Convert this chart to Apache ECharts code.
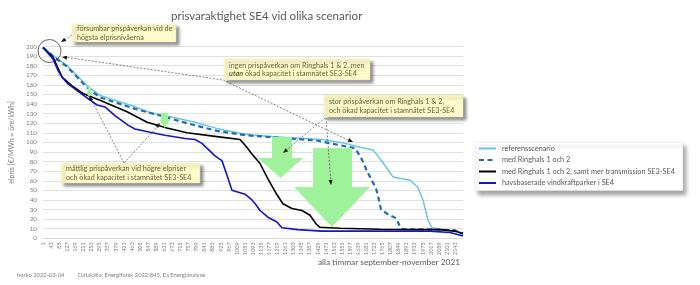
<!DOCTYPE html>
<html>
<head>
<meta charset="utf-8">
<script src="https://cdn.jsdelivr.net/npm/echarts@6/dist/echarts.min.js"></script>
<style>
  html, body { margin: 0; padding: 0; background: #fff; }
  #chart { width: 700px; height: 285px; }
</style>
</head>
<body>
<div id="chart"></div>
<script>
// hours are 0-based index into the sorted (duration) series, prices in €/MWh
const seriesNames = [
    'referensscenario',
    'med Ringhals 1 och 2',
    'med Ringhals 1 och 2, samt mer transmission SE3-SE4',
    'havsbaserade vindkraftparker i SE4'
];

const referens = [
    [0, 199], [50, 191], [125, 180], [230, 159], [296, 149], [468, 138], [556, 131], [634, 128],
    [790, 121], [904, 114.6], [1024, 109.5], [1076, 108], [1200, 106], [1450, 103], [1570, 99],
    [1648, 95], [1715, 92], [1736, 87], [1788, 73], [1819, 64], [1908, 60.5], [1949, 53],
    [1975, 40], [2001, 19], [2022, 11], [2063, 9.7], [2152, 6.6], [2183, 3.5]
];

const ringhals = [
    [0, 199], [50, 190], [125, 179], [230, 157], [296, 147], [478, 135], [608, 128], [748, 120],
    [904, 112], [1050, 107.5], [1150, 106], [1420, 102], [1570, 96], [1622, 94], [1632, 92],
    [1658, 82], [1684, 70], [1710, 60], [1731, 52], [1746, 40], [1757, 30], [1793, 25],
    [1835, 21], [1856, 12], [1871, 9.5], [2000, 9.3], [2140, 8.5], [2183, 5]
];

const ringhalsTrans = [
    [0, 199], [52, 189], [99, 168], [151, 159], [208, 151], [296, 144], [437, 132], [541, 121],
    [644, 115], [748, 110], [904, 106], [1024, 103], [1055, 96], [1086, 88], [1128, 78],
    [1169, 62], [1211, 47], [1247, 36], [1294, 31], [1346, 29], [1388, 24], [1419, 15],
    [1440, 11.5], [1544, 10.5], [1750, 9.5], [2063, 9], [2141, 7.5], [2183, 5]
];

const havsvind = [
    [0, 199], [52, 187], [78, 175], [99, 168], [130, 161], [218, 148], [281, 139], [322, 137],
    [374, 128], [442, 118], [478, 114], [556, 110.6], [634, 107.5], [738, 104], [790, 103],
    [826, 99], [852, 94], [894, 86], [930, 81], [956, 66], [982, 50], [1050, 46], [1086, 40],
    [1107, 35], [1128, 29], [1169, 22], [1216, 17], [1242, 11], [1325, 9], [1450, 7.5],
    [2011, 7.5], [2115, 6], [2183, 2.5]
];

const notes = [
    'försumbar prispåverkan vid de\nhögsta elprisnivåerna',
    'ingen prispåverkan om Ringhals 1 & 2, men\n{b|utan} ökad kapacitet i stamnätet SE3-SE4',
    'stor prispåverkan om Ringhals 1 & 2,\noch ökad kapacitet i stamnätet SE3-SE4',
    'måttlig prispåverkan vid högre elpriser\noch ökad kapacitet i stamnätet SE3-SE4'
];

const FONT = 'Lato';
const noteColor = '#6b6133';
const green = '#9ef29a';

function noteBox(x, y, w, h, text) {
    return [
        {
            type: 'rect', shape: { x: x, y: y, width: w, height: h },
            style: { fill: '#fdfbc9', stroke: '#e6e3b0', lineWidth: 0.5,
                shadowBlur: 3, shadowOffsetX: 3, shadowOffsetY: 3, shadowColor: 'rgba(0,0,0,0.45)' },
            z: 10
        },
        {
            type: 'text', x: x + 5, y: y + h / 2,
            style: { text: text, fill: noteColor, font: '7.2px ' + FONT, lineHeight: 8.5,
                verticalAlign: 'middle',
                rich: { b: { fontWeight: 'bold', fontStyle: 'italic', fill: noteColor, fontSize: 7.2, fontFamily: FONT } } },
            z: 11
        }
    ];
}

function dashLine(points) {
    return {
        type: 'polyline', shape: { points: points },
        style: { stroke: '#333', lineWidth: 0.6, lineDash: [2, 1.5], fill: null }, z: 9
    };
}

function arrowHead(tip, from) {
    const dx = tip[0] - from[0], dy = tip[1] - from[1];
    const len = Math.sqrt(dx * dx + dy * dy);
    const ux = dx / len, uy = dy / len;
    const L = 5, W = 2;
    const bx = tip[0] - ux * L, by = tip[1] - uy * L;
    return {
        type: 'polygon',
        shape: { points: [tip, [bx - uy * W, by + ux * W], [bx + uy * W, by - ux * W]] },
        style: { fill: '#111' }, z: 9
    };
}

function blockArrow(sx0, sx1, sy0, sy1, hx0, hx1, hy1) {
    return {
        type: 'polygon',
        shape: { points: [[sx0, sy0], [sx1, sy0], [sx1, sy1], [hx1, sy1], [(hx0 + hx1) / 2, hy1], [hx0, sy1], [sx0, sy1]] },
        style: { fill: green }, z: 5
    };
}

const chart = echarts.init(document.getElementById('chart'));

const graphics = [
    // green block arrows
    blockArrow(87.5, 91, 87, 92, 85.5, 93, 97),
    blockArrow(161, 168, 113, 120, 159.5, 170, 128),
    blockArrow(272, 292, 137, 158, 258, 303, 178),
    blockArrow(313, 352, 148, 187, 294, 370, 227),
    // circle at the top
    { type: 'circle', shape: { cx: 49.5, cy: 51, r: 11.5 }, style: { stroke: '#222', lineWidth: 0.7, fill: null }, z: 9 },
    // dashed pointer lines
    dashLine([[72, 35], [63, 41]]), arrowHead([61, 42], [72, 35]),
    dashLine([[64, 57], [223, 80], [350, 141]]),
    arrowHead([62, 57], [223, 80]), arrowHead([353, 142], [223, 80]),
    dashLine([[325, 118], [285, 151]]), arrowHead([283, 153], [325, 118]),
    dashLine([[326, 118], [331, 183]]), arrowHead([331, 185], [326, 118]),
    dashLine([[124, 163], [91, 99]]), arrowHead([89, 96], [124, 163]),
    dashLine([[124, 163], [158, 126]]), arrowHead([160, 123], [124, 163]),
    // texts
    { type: 'text', x: 460, y: 262, style: { text: 'alla timmar september-november 2021', fill: '#595959',
        font: '8.3px ' + FONT, align: 'right', verticalAlign: 'middle' } },
    { type: 'text', x: 17, y: 275, style: { text: 'horko 2022-03-04', fill: '#7f7f7f',
        font: '5.8px ' + FONT, verticalAlign: 'middle' } },
    { type: 'text', x: 78, y: 275, style: { text: 'Datakälla: Energiforsk 2022:845, Ea Energianalyse', fill: '#7f7f7f',
        font: '5.8px ' + FONT, verticalAlign: 'middle' } }
]
    .concat(noteBox(72, 24, 104, 18, notes[0]))
    .concat(noteBox(224, 59, 146, 21, notes[1]))
    .concat(noteBox(324, 95, 139, 22, notes[2]))
    .concat(noteBox(61, 163, 139, 20, notes[3]));

const options = {
    animation: false,
    textStyle: { fontFamily: FONT },
    title: {
        text: 'prisvaraktighet SE4 vid olika scenarior',
        left: 166, top: 5,
        textStyle: { fontSize: 11.5, fontWeight: 'normal', color: '#595959', fontFamily: FONT }
    },
    legend: {
        orient: 'vertical',
        left: 475, top: 142,
        width: 205,
        padding: [3, 8, 4, 3],
        itemWidth: 17, itemHeight: 6, itemGap: 4.5,
        backgroundColor: '#fff',
        borderColor: '#e3e3e3', borderWidth: 0.5,
        shadowBlur: 4, shadowOffsetX: 3, shadowOffsetY: 4, shadowColor: 'rgba(0,0,0,0.35)',
        itemStyle: { opacity: 0 },
        textStyle: { fontSize: 7.3, color: '#595959', fontFamily: FONT, padding: [0, 0, 0, 1] },
        data: seriesNames
    },
    grid: { left: 43, right: 237, top: 46.5, bottom: 46.7 },
    xAxis: {
        type: 'value', min: 0, max: 2183, interval: 42,
        axisLine: { lineStyle: { color: '#d9d9d9' } },
        axisTick: { show: false },
        splitLine: { show: false },
        axisLabel: {
            rotate: 90, fontSize: 5.5, color: '#7f7f7f', margin: 4,
            showMaxLabel: false,
            formatter: v => (v % 42 === 0 && v <= 2142) ? String(v + 1) : ''
        }
    },
    yAxis: {
        type: 'value', min: 0, max: 200, interval: 10,
        name: 'elpris [€/MWh = öre/kWh]',
        nameLocation: 'middle', nameGap: 23,
        nameTextStyle: { fontSize: 7, color: '#7f7f7f' },
        axisLine: { show: false },
        axisTick: { show: false },
        axisLabel: { fontSize: 6.3, color: '#7f7f7f', margin: 6 },
        splitLine: { lineStyle: { color: '#d9d9d9', width: 0.8 } }
    },
    series: [
        { name: seriesNames[0], type: 'line', data: referens, symbol: 'none', z: 2,
          lineStyle: { color: '#6cc4e8', width: 1.5 }, itemStyle: { color: '#6cc4e8' } },
        { name: seriesNames[1], type: 'line', data: ringhals, symbol: 'none', z: 3,
          lineStyle: { color: '#1f6db3', width: 2.2, type: [5, 3.5] }, itemStyle: { color: '#1f6db3' } },
        { name: seriesNames[2], type: 'line', data: ringhalsTrans, symbol: 'none', z: 4,
          lineStyle: { color: '#000', width: 1.6 }, itemStyle: { color: '#000' } },
        { name: seriesNames[3], type: 'line', data: havsvind, symbol: 'none', z: 4,
          lineStyle: { color: '#1414c8', width: 1.6 }, itemStyle: { color: '#1414c8' } }
    ],
    graphic: graphics
};
chart.setOption(options);
</script>
</body>
</html>
